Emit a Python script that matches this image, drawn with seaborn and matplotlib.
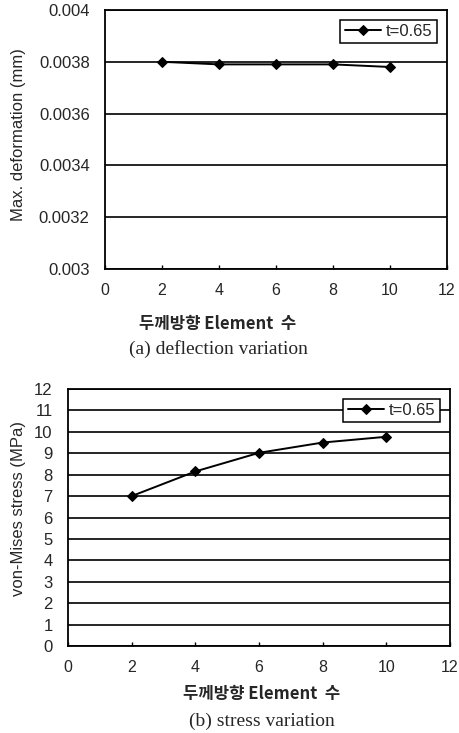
import matplotlib
matplotlib.use("Agg")
import matplotlib.pyplot as plt
import seaborn as sns
import pandas as pd

# Number of elements through the thickness
elements = [2, 4, 6, 8, 10]
# Maximum deformation (mm), t=0.65
deflection = [0.00380, 0.00379, 0.00379, 0.00379, 0.00378]
# von-Mises stress (MPa), t=0.65
stress = [7.0, 8.15, 9.02, 9.5, 9.77]
series_label = "t=0.65"

x_label = "두께방향 Element  수"
captions = ["(a) deflection variation", "(b) stress variation"]

sns.set_theme(style="white")
plt.rcParams["font.family"] = ["Liberation Sans", "Noto Sans CJK KR"]

fig = plt.figure(figsize=(4.59, 7.33), dpi=100)
W, H = 459, 733

def add_axes(left, top, right, bottom):
    return fig.add_axes([left / W, 1 - bottom / H, (right - left) / W, (bottom - top) / H])

ax1 = add_axes(105, 10, 447, 269)
ax2 = add_axes(68, 389, 450, 646)

df1 = pd.DataFrame({"n": elements, "v": deflection, "s": series_label})
df2 = pd.DataFrame({"n": elements, "v": stress, "s": series_label})

for ax, df in ((ax1, df1), (ax2, df2)):
    sns.lineplot(data=df, x="n", y="v", hue="s", palette=["black"], marker="D",
                 markersize=5, markeredgecolor="black", linewidth=1.4, ax=ax)
    ax.set_xlim(0, 12)
    ax.set_xticks(range(0, 13, 2))
    for sp in ax.spines.values():
        sp.set_color("black")
        sp.set_linewidth(1.3)
    ax.grid(axis="y", color="black", linewidth=1.2)
    ax.grid(axis="x", visible=False)
    ax.tick_params(axis="x", direction="in", length=3, color="black", width=1,
                   labelsize=11.5, pad=10, bottom=True)
    ax.tick_params(axis="y", length=0, labelsize=12, pad=11)
    ax.set_ylabel("")
    ax.set_xlabel("")
    leg = ax.legend(loc="upper right", frameon=True, fancybox=False, fontsize=12,
                    handlelength=2.2, handletextpad=0.3, borderpad=0.25,
                    borderaxespad=0.6, labelspacing=0.2)
    leg.get_frame().set_edgecolor("black")
    leg.get_frame().set_linewidth(1.1)
    leg.get_frame().set_alpha(1)

ax1.set_ylim(0.003, 0.004)
ax1.set_yticks([0.003, 0.0032, 0.0034, 0.0036, 0.0038, 0.004])
ax1.set_yticklabels(["0.003", "0.0032", "0.0034", "0.0036", "0.0038", "0.004"])

ax2.set_ylim(0, 12)
ax2.set_yticks(range(0, 13))

fig.text(19 / W, 1 - 135 / H, "Max. deformation (mm)", rotation=90, ha="center",
         va="center", fontsize=12)
fig.text(19 / W, 1 - 509 / H, "von-Mises stress (MPa)", rotation=90, ha="center",
         va="center", fontsize=12)

fig.text(218 / W, 1 - 324 / H, x_label, ha="center", va="center", fontsize=12,
         fontweight="bold", family=["Noto Sans CJK KR"])
fig.text(218 / W, 1 - 349 / H, captions[0], ha="center", va="center", fontsize=14,
         family=["Liberation Serif"])
fig.text(262 / W, 1 - 694 / H, x_label, ha="center", va="center", fontsize=12,
         fontweight="bold", family=["Noto Sans CJK KR"])
fig.text(262 / W, 1 - 721 / H, captions[1], ha="center", va="center", fontsize=14,
         family=["Liberation Serif"])

fig.savefig("out.png", dpi=100)
